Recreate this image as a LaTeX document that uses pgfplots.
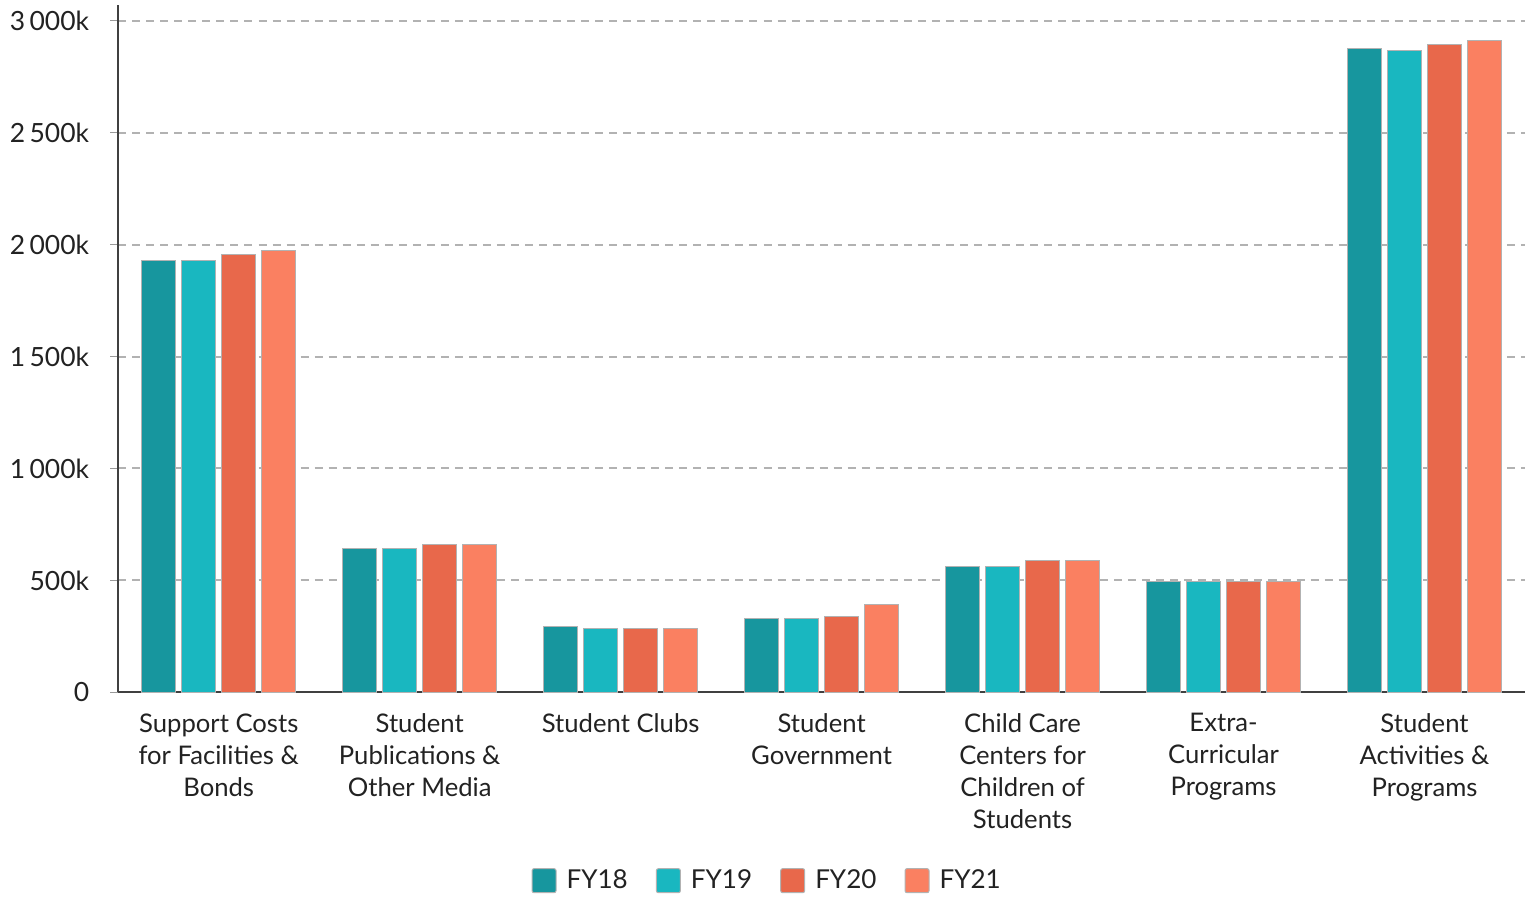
\documentclass[border=0pt]{standalone}
\usepackage{pgfplots}
\pgfplotsset{compat=1.18}
\usepackage{fontspec}
\setmainfont{Lato}

\definecolor{cA}{RGB}{23,150,158}
\definecolor{cB}{RGB}{25,183,192}
\definecolor{cC}{RGB}{232,104,75}
\definecolor{cD}{RGB}{250,128,97}
\definecolor{txt}{RGB}{34,34,34}

\begin{document}
\begin{tikzpicture}
\begin{axis}[
    scale only axis,
    width=702pt,
    height=343pt,
    ybar=3pt,
    bar width=17pt,
    xmin=-0.5, xmax=6.5,
    ymin=0, ymax=3070,
    axis lines=left,
    axis line style={draw=black!75, line width=1pt, -},
    ytick={0,500,1000,1500,2000,2500,3000},
    yticklabels={0,500k,1\,000k,1\,500k,2\,000k,2\,500k,3\,000k},
    xtick={0,1,2,3,4,5,6},
    xticklabels={
        {Support Costs\\for Facilities \&\\Bonds},
        {Student\\Publications \&\\Other Media},
        {Student Clubs},
        {Student\\Government},
        {Child Care\\Centers for\\Children of\\Students},
        {Extra-\\Curricular\\Programs},
        {Student\\Activities \&\\Programs}},
    x tick label style={align=center, font=\fontsize{12.8}{16}\selectfont, text=txt, yshift=-3pt},
    y tick label style={font=\fontsize{13.2}{14}\selectfont, text=txt, xshift=-7pt},
    x tick style={draw=none},
    y tick style={draw=black!40, line width=0.6pt},
    tick align=outside,
    major tick length=4pt,
    ymajorgrids,
    grid style={draw=black!30, line width=1pt, dash pattern=on 4pt off 3pt},
    legend style={
        at={(rel axis cs:0.462,-0.274)}, anchor=center,
        draw=none, fill=none,
        legend columns=-1,
        font=\fontsize{13}{14}\selectfont,
        text=txt,
        /tikz/every odd column/.append style={column sep=3pt},
        /tikz/every even column/.append style={column sep=12pt}},
    legend image code/.code={
        \fill[#1, rounded corners=1pt] (0pt,-6pt) rectangle (12pt,6pt);},
    every axis plot/.append style={draw=black!30, line width=0.5pt},
    clip=false
]
\addplot[fill=cA] coordinates {(0,1929) (1,643) (2,295) (3,330) (4,562) (5,496) (6,2875)};
\addplot[fill=cB] coordinates {(0,1929) (1,643) (2,286) (3,330) (4,562) (5,496) (6,2866)};
\addplot[fill=cC] coordinates {(0,1955) (1,661) (2,286) (3,339) (4,589) (5,496) (6,2893)};
\addplot[fill=cD] coordinates {(0,1973) (1,661) (2,286) (3,393) (4,589) (5,494) (6,2911)};
\legend{FY18,FY19,FY20,FY21}
\coordinate (rt) at (rel axis cs:1,1);
\coordinate (lb) at (rel axis cs:0,0);
\end{axis}
\path ([shift={(4pt,2.5pt)}]rt) coordinate (pad);
\path ([xshift=-59pt]lb) coordinate (padl);
\end{tikzpicture}
\end{document}
